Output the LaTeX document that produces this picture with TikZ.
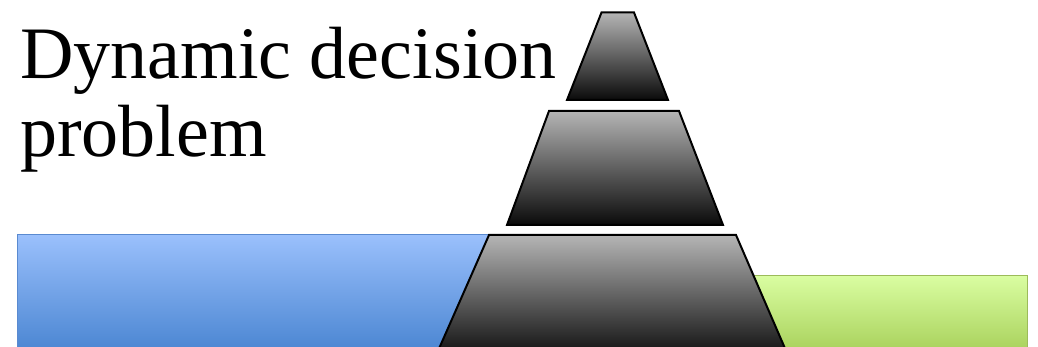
\documentclass[tikz,border=0pt]{standalone}
\usepackage{fontspec}
\setmainfont{Liberation Serif}
\definecolor{bluetop}{HTML}{9AC0FC}
\definecolor{bluemid}{HTML}{86ADF0}
\definecolor{bluebot}{HTML}{4380CE}
\definecolor{blueline}{HTML}{5A8AD0}
\definecolor{greentop}{HTML}{DAFEA2}
\definecolor{greenmid}{HTML}{CCEE8E}
\definecolor{greenbot}{HTML}{A2CB52}
\definecolor{greenline}{HTML}{9CBB5A}
\definecolor{graytop}{HTML}{B5B5B5}
\definecolor{graymid}{HTML}{A2A2A2}
\definecolor{graybot}{HTML}{0A0A0A}
\tikzset{
  band/.style={line width=1pt},
  tier/.style={top color=graytop, middle color=graymid, bottom color=graybot, draw=black, line width=2pt, line join=miter},
  title/.style={anchor=base west, inner sep=0pt, font=\fontsize{74}{78}\selectfont}
}
\begin{document}
\begin{tikzpicture}[x=1pt,y=-1pt]
\useasboundingbox (0,0) rectangle (1038,347);
\clip (0,0) rectangle (1038,347);
% bands
\shade[band, top color=bluetop, middle color=bluemid, bottom color=bluebot, draw=blueline] (17,235) rectangle (620,362);
\shade[band, top color=greentop, middle color=greenmid, bottom color=greenbot, draw=greenline] (660,275) rectangle (1027,362);
% pyramid tiers
\shade[tier] (601.5,12.5) -- (634,12.5) -- (668,100) -- (567,100) -- cycle;
\shade[tier] (549,111) -- (679,111) -- (723,225) -- (507,225) -- cycle;
\shade[tier] (489,235) -- (736,235) -- (790,360) -- (434,360) -- cycle;
% title
\node[title] (t1) at (20,79) {Dynamic decision};
\node[title] (t2) at (20,157) {problem};
\end{tikzpicture}
\end{document}
